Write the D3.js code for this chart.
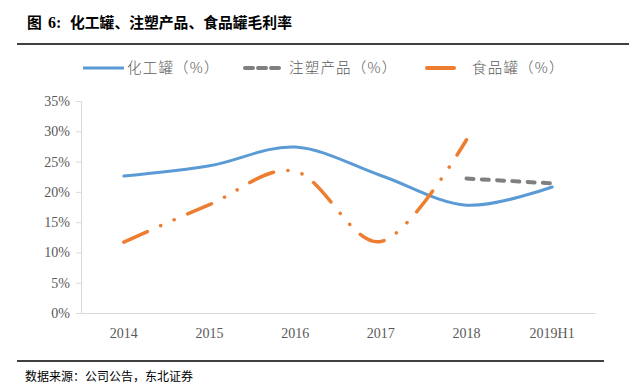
<!DOCTYPE html>
<html><head><meta charset="utf-8">
<script src="https://cdn.jsdelivr.net/npm/d3@7"></script>
<style>
html,body{margin:0;padding:0;background:#fff;}
svg{display:block;}
</style></head>
<body>
<svg id="chart" width="629" height="390"></svg>
<script>
const categories = ["2014","2015","2016","2017","2018","2019H1"];
const chemCan = [22.6, 24.3, 27.4, 22.7, 17.8, 20.8];
const injection = [null, null, null, null, 22.2, 21.4];
const foodCan = [11.7, 17.9, 23.4, 11.8, 28.6, null];
const yTicks = [0,5,10,15,20,25,30,35];
const seriesNames = ["化工罐（%）","注塑产品（%）","食品罐（%）"];
const colors = ["#5B9BD5","#7F7F7F","#ED7D31"];
const titleParts = ["图","6:","化工罐、注塑产品、食品罐毛利率"];
const sourceText = "数据来源：公司公告，东北证券";

(function(){
const svg = d3.select("#chart");
const mLeft = 81, mRight = 595, mTop = 101, mBottom = 313;

const x = d3.scaleBand().domain(categories).range([mLeft, mRight]);
const y = d3.scaleLinear().domain([0,35]).range([mBottom, mTop]);

// title
const tx = [27, 48, 70];
titleParts.forEach((t,i)=>{
  svg.append("text").attr("x",tx[i]).attr("y",28)
    .attr("font-family", i===1 ? "'Liberation Serif'" : "'Noto Sans CJK SC'")
    .attr("font-weight","bold")
    .attr("font-size", i===1 ? 16 : 14.8).attr("fill","#000").text(t);
});
svg.append("line").attr("x1",17).attr("x2",629).attr("y1",44).attr("y2",44)
  .attr("stroke","#000").attr("stroke-width",1.6);

// y axis
const yAxis = d3.axisLeft(y).tickValues(yTicks).tickFormat(d=>d+"%").tickSize(5).tickSizeOuter(0);
const gy = svg.append("g").attr("transform",`translate(${mLeft},0)`).call(yAxis);
gy.select(".domain").attr("stroke","#D9D9D9");
gy.selectAll(".tick line").attr("stroke","#D9D9D9");
gy.selectAll("text").attr("font-family","'Liberation Serif'").attr("font-size",14)
  .attr("fill","#595959").attr("x",-11);

// x axis
const xAxis = d3.axisBottom(x).tickSize(0).tickSizeOuter(0);
const gx = svg.append("g").attr("transform",`translate(0,${mBottom})`).call(xAxis);
gx.select(".domain").attr("stroke","#D9D9D9");
gx.selectAll("text").attr("font-family","'Liberation Serif'").attr("font-size",14)
  .attr("fill","#595959").attr("dy","1.55em");

const cx = d => x(d) + x.bandwidth()/2;
const line = d3.line().defined(d=>d.v!=null).x(d=>cx(d.c)).y(d=>y(d.v)).curve(d3.curveCardinal.tension(0));

function toPts(arr){ return categories.map((c,i)=>({c, v:arr[i]})); }

svg.append("path").datum(toPts(chemCan)).attr("d",line)
  .attr("fill","none").attr("stroke",colors[0]).attr("stroke-width",3).attr("stroke-linecap","round");
svg.append("path").datum(toPts(injection)).attr("d",line)
  .attr("fill","none").attr("stroke",colors[1]).attr("stroke-width",4)
  .attr("stroke-dasharray","7,8.3").attr("stroke-linecap","round");
svg.append("path").datum(toPts(foodCan)).attr("d",line)
  .attr("fill","none").attr("stroke",colors[2]).attr("stroke-width",3.5)
  .attr("stroke-dasharray","26,14.5,0.1,14.5,0.1,14.5").attr("stroke-linecap","round");

// legend
const legend = [
  {x1:83,x2:124,tx:127,style:{w:3,dash:null,cap:"butt"}},
  {x1:245,x2:283,tx:289,style:{w:4,dash:"8,5",cap:"round"}},
  {x1:427,x2:454,tx:472,style:{w:4,dash:null,cap:"round"}}
];
legend.forEach((l,i)=>{
  const ln = svg.append("line").attr("x1",l.x1).attr("x2",l.x2).attr("y1",68).attr("y2",68)
    .attr("stroke",colors[i]).attr("stroke-width",l.style.w).attr("stroke-linecap",l.style.cap);
  if(l.style.dash) ln.attr("stroke-dasharray",l.style.dash);
  svg.append("text").attr("x",l.tx).attr("y",73).attr("font-family","'Noto Sans CJK SC'")
    .attr("font-weight",300).attr("letter-spacing",1.2)
    .attr("font-size",14.5).attr("fill","#595959").text(seriesNames[i]);
});

// footer
svg.append("line").attr("x1",17).attr("x2",604).attr("y1",361).attr("y2",361)
  .attr("stroke","#000").attr("stroke-width",1.5);
svg.append("text").attr("x",25).attr("y",381).attr("font-family","'Noto Sans CJK SC'")
  .attr("font-size",12).attr("fill","#000").text(sourceText);
})();
</script>
</body></html>
